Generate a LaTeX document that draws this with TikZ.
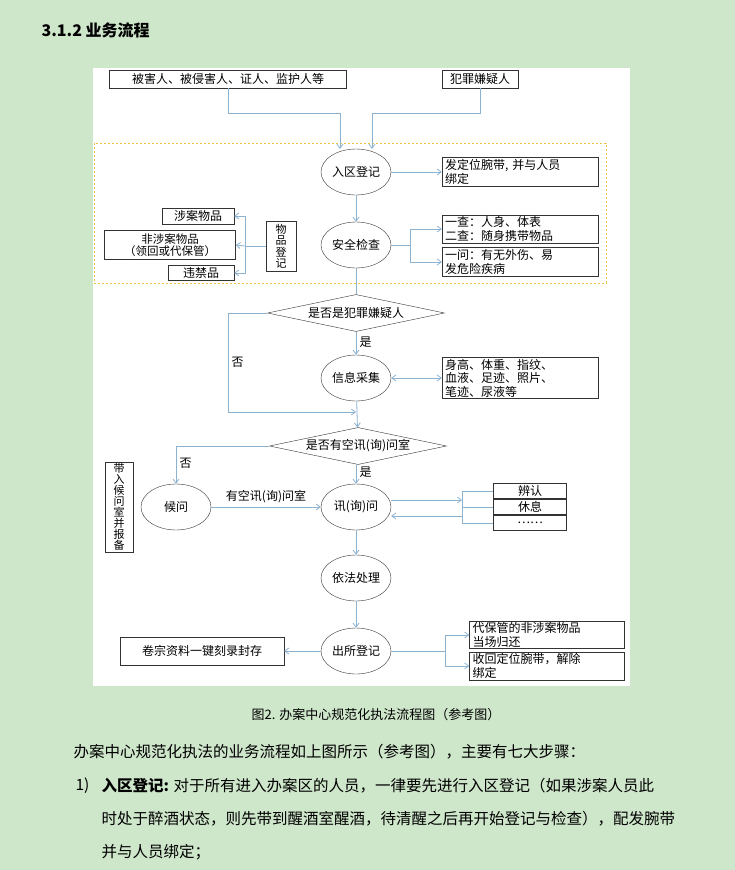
\documentclass[tikz,border=0pt]{standalone}
\usepackage{fontspec}
\setmainfont{Noto Sans CJK SC}
\usetikzlibrary{shapes.geometric,arrows.meta}
\definecolor{bg}{HTML}{CEE6CA}
\definecolor{ln}{HTML}{8DB3D3}
\definecolor{dashcol}{HTML}{F0C040}
\begin{document}
\begin{tikzpicture}[x=1pt,y=-1pt,
  every node/.style={font=\fontsize{12}{13.5}\selectfont},
  el/.style={ellipse,draw=black!80,fill=white,minimum width=70pt,minimum height=46pt,inner sep=0pt},
  dm/.style={diamond,draw=black!80,fill=white,aspect=4.6,inner sep=0pt},
  cn/.style={draw=ln,line width=0.8pt},
  ar/.style={cn,-{Straight Barb[length=4pt,width=6pt]}},
  lb/.style={font=\fontsize{12}{13.5}\selectfont}]
\fill[bg] (0,0) rectangle (735,870);
\useasboundingbox (0,0) rectangle (735,870);
\node[anchor=west,font=\fontsize{16}{18}\selectfont\bfseries] (title) at (38,30) {3.1.2 业务流程};
\fill[white] (93,68) rectangle (630,686);
\draw[dashcol,line width=1pt,dash pattern=on 2pt off 2pt] (94,143) rectangle (606,283);
% top boxes
\node[draw=black!80,fill=white,minimum width=237pt,minimum height=18pt,inner sep=0pt] (vic) at (228,79) {被害人、被侵害人、证人、监护人等};
\node[draw=black!80,fill=white,minimum width=76pt,minimum height=18pt,inner sep=0pt] (sus) at (480,79) {犯罪嫌疑人};
% ellipses
\node[el] (rq) at (356,172) {入区登记};
\node[el] (aq) at (356,245) {安全检查};
\node[dm,minimum width=177pt,minimum height=37pt] (d1) at (356,313) {是否是犯罪嫌疑人};
\node[el] (xx) at (356,378) {信息采集};
\node[dm,minimum width=177pt,minimum height=37pt] (d2) at (358,446) {是否有空讯(询)问室};
\node[el] (hw) at (176,507) {候问};
\node[el] (xw) at (356,507) {讯(询)问};
\node[el] (yf) at (356,578) {依法处理};
\node[el] (cs) at (356,651) {出所登记};
% right boxes
\node[draw=black!80,fill=white,minimum width=156pt,minimum height=28pt,text width=150pt,align=left,inner sep=2pt] (b1) at (520,172) {发定位腕带, 并与人员\\绑定};
\node[draw=black!80,fill=white,minimum width=156pt,minimum height=28pt,text width=150pt,align=left,inner sep=1pt] (b2) at (520,229) {一查：人身、体表\\二查：随身携带物品};
\node[draw=black!80,fill=white,minimum width=156pt,minimum height=29pt,text width=150pt,align=left,inner sep=1pt] (b3) at (520,262) {一问：有无外伤、易\\发危险疾病};
\node[draw=black!80,fill=white,minimum width=156pt,minimum height=41pt,text width=150pt,align=left,inner sep=1pt] (b4) at (520,378) {身高、体重、指纹、\\血液、足迹、照片、\\笔迹、尿液等};
\node[draw=black!80,fill=white,minimum width=73pt,minimum height=15pt,inner sep=0pt] (r1) at (530,491) {辨认};
\node[draw=black!80,fill=white,minimum width=73pt,minimum height=15pt,inner sep=0pt] (r2) at (530,507) {休息};
\node[draw=black!80,fill=white,minimum width=73pt,minimum height=15pt,inner sep=0pt] (r3) at (530,523) {……};
\node[draw=black!80,fill=white,minimum width=155pt,minimum height=26pt,text width=149pt,align=left,inner sep=1pt] (c1) at (547,635) {代保管的非涉案物品\\当场归还};
\node[draw=black!80,fill=white,minimum width=155pt,minimum height=28pt,text width=149pt,align=left,inner sep=1pt] (c2) at (547,666) {收回定位腕带，解除\\绑定};
\node[draw=black!80,fill=white,minimum width=164pt,minimum height=28pt,inner sep=0pt] (jz) at (202,651) {卷宗资料一键刻录封存};
% left
\node[draw=black!80,fill=white,minimum width=30pt,minimum height=50pt,align=center,inner sep=1pt,font=\fontsize{11}{11.5}\selectfont] (wp) at (281,246) {物\\品\\登\\记};
\node[draw=black!80,fill=white,minimum width=72pt,minimum height=16pt,inner sep=0pt] (l1) at (198,216) {涉案物品};
\node[draw=black!80,fill=white,minimum width=131pt,minimum height=29pt,align=center,inner sep=0pt,font=\fontsize{11.5}{12.5}\selectfont] (l2) at (170,245) {非涉案物品\\（领回或代保管）};
\node[draw=black!80,fill=white,minimum width=66pt,minimum height=15pt,inner sep=0pt] (l3) at (201,273) {违禁品};
\node[draw=black!80,fill=white,minimum width=28pt,minimum height=90pt,align=center,inner sep=1pt,font=\fontsize{11}{11}\selectfont] (dr) at (119,507) {带\\入\\候\\问\\室\\并\\报\\备};
% connectors
\coordinate (v1) at (228,113); \coordinate (v2) at (340,113);
\coordinate (s1) at (480,113); \coordinate (s2) at (372,113);
\draw[ar] (vic.south) -- (v1) -- (v2) -- (v2 |- rq.north);
\draw[ar] (sus.south) -- (s1) -- (s2) -- (s2 |- rq.north);
\draw[ar] (rq) -- (b1);
\draw[ar] (rq) -- (aq);
\coordinate (k1) at (410,245);
\draw[cn] (aq.east) -- (k1);
\draw[ar] (k1) |- (b2.west);
\draw[ar] (k1) |- (b3.west);
\coordinate (k2) at (245,246);
\draw[cn] (wp.west) -- (k2);
\draw[ar] (k2) |- (l1.east);
\draw[ar] (k2) -- (l2.east);
\draw[ar] (k2) |- (l3.east);
\draw[cn] (aq) -- (d1);
\draw[ar] (d1) -- node[right,lb,pos=0.45]{是} (xx);
\draw[ar,{Straight Barb[length=4pt,width=6pt]}-{Straight Barb[length=4pt,width=6pt]}] (xx) -- (b4);
\coordinate (n1) at (228,313); \coordinate (n2) at (228,412); \coordinate (n3) at (356,412);
\draw[ar] (d1.west) -- (n1) -- node[right,lb,pos=0.5]{否} (n2) -- (n3);
\draw[ar] (xx) -- (d2);
\coordinate (m1) at (176,446);
\draw[ar] (d2.west) -- (m1) -- node[right,lb,pos=0.45]{否} (hw.north);
\draw[ar] (d2.south -| xw.north) -- node[right,lb,pos=0.4]{是} (xw.north);
\draw[ar] (hw.east) -- node[above,lb]{有空讯(询)问室} (xw.west);
\coordinate (q1) at (462,500); \coordinate (q2) at (462,516);
\draw[ar] (xw.east |- q1) -- (q1);
\draw[ar] (q2) -- (xw.east |- q2);
\draw[cn] (462,491) -- (462,523);
\draw[cn] (462,491) -- (r1.west); \draw[cn] (462,507) -- (r2.west); \draw[cn] (462,523) -- (r3.west);
\draw[ar] (xw) -- (yf);
\draw[ar] (yf) -- (cs);
\draw[ar] (cs) -- (jz);
\coordinate (p1) at (445,651);
\draw[cn] (cs.east) -- (p1);
\draw[ar] (p1) |- (c1.west);
\draw[ar] (p1) |- (c2.west);
% text
\node[font=\fontsize{13}{15}\selectfont] (cap) at (376,715) {图2. 办案中心规范化执法流程图（参考图）};
\node[anchor=west,font=\fontsize{15.5}{17}\selectfont] (p0) at (70,752) {办案中心规范化执法的业务流程如上图所示（参考图），主要有七大步骤：};
\node[anchor=west,font=\fontsize{15.5}{17}\selectfont] (p1n) at (72,786) {1)};
\node[anchor=west,font=\fontsize{15.5}{17}\selectfont] (p1) at (98,786) {\textbf{入区登记:} 对于所有进入办案区的人员，一律要先进行入区登记（如果涉案人员此};
\node[anchor=west,font=\fontsize{15.5}{17}\selectfont] (p2) at (98,819) {时处于醉酒状态，则先带到醒酒室醒酒，待清醒之后再开始登记与检查），配发腕带};
\node[anchor=west,font=\fontsize{15.5}{17}\selectfont] (p3) at (98,852) {并与人员绑定；};
\end{tikzpicture}
\end{document}
